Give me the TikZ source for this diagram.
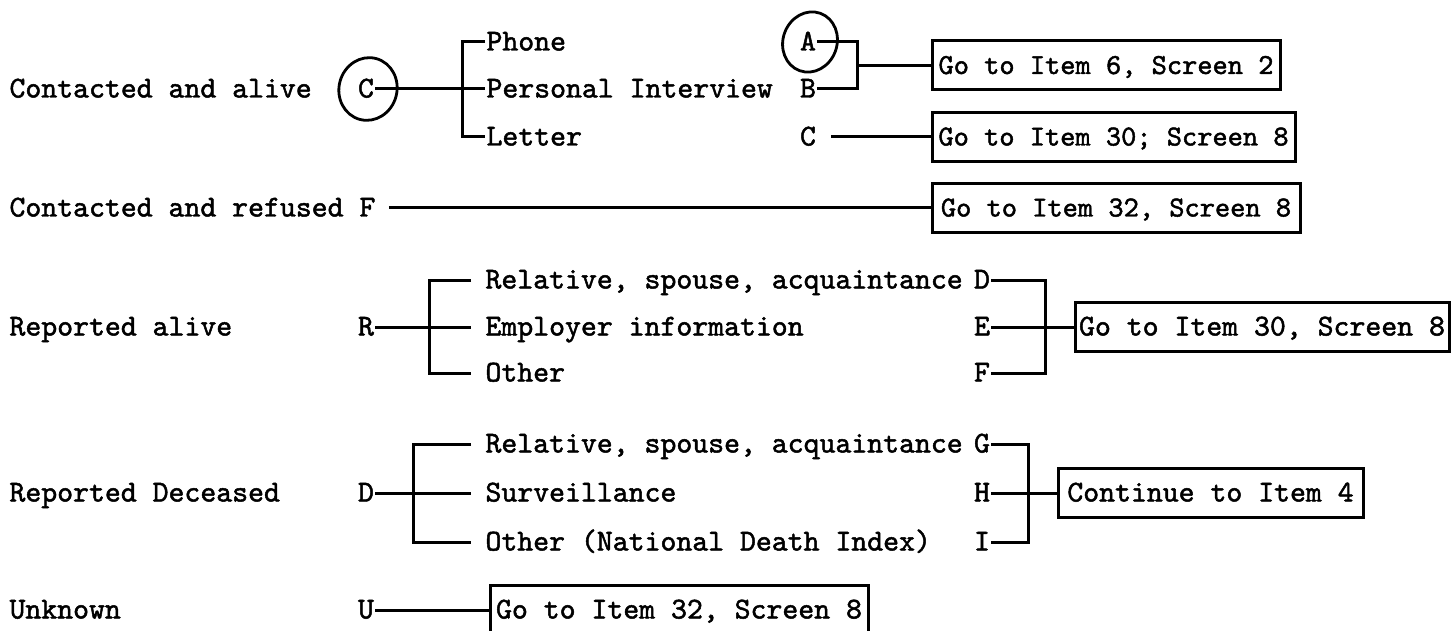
\documentclass[tikz,border=0pt]{standalone}
\usepackage{fontspec}
\newfontfamily\twfont{lmmono10-regular.otf}[FakeBold=1.6]
\begin{document}
\begin{tikzpicture}[x=1pt,y=-1pt,line width=3pt,
  tfont/.style={font=\fontsize{30.3}{34}\twfont},
  sfont/.style={font=\fontsize{29}{33}\twfont},
  txt/.style={tfont,anchor=base west,inner sep=0pt,text height=17pt,text depth=0pt},
  ltr/.style={tfont,anchor=base,inner sep=0pt,text height=17pt,text depth=0pt},
  box/.style={tfont,draw,line width=3pt,inner sep=0pt,minimum height=49pt,text height=17pt,text depth=0pt},
  ring/.style={line width=2.8pt}]
\useasboundingbox (0,0) rectangle (1451,631);
% ---------- Contacted and alive
\node[txt] (ca) at (8,97.5) {Contacted and alive};
\node[ltr] (c1) at (366,97.5) {C};
\draw[ring,rotate around={-15:(368,89)}] (368,89) ellipse [x radius=29,y radius=31.5];
\node[txt] (phone) at (485,50.5) {Phone};
\node[txt] (pers) at (485,97.5) {Personal Interview};
\node[txt] (letter) at (485,145.5) {Letter};
\coordinate (k1) at (462,89);
\draw (c1.east) -- (pers.west);
\draw (phone.west) -| (k1) |- (letter.west);
\node[ltr] (a) at (808,50.5) {A};
\node[ltr] (b) at (808,97.5) {B};
\node[ltr] (c2) at (808,145.5) {C};
\draw[ring,rotate around={-20:(810,42)}] (810,42) ellipse [x radius=27,y radius=30.5];
\node[box,sfont,minimum width=348pt] (box1) at (1106,65.5) {Go to Item 6, Screen 2};
\node[box,sfont,minimum width=363pt] (box2) at (1113.5,137) {Go to Item 30; Screen 8};
\coordinate (j1) at (857,65.5);
\draw (a.east) -| (j1) |- (b.east);
\draw (j1) -- (box1.west);
\draw ([xshift=14pt]c2.east) -- (box2.west);
% ---------- Contacted and refused
\node[txt] (cr) at (8,216.5) {Contacted and refused F};
\node[box,sfont,minimum width=368pt] (box3) at (1116,208) {Go to Item 32, Screen 8};
\draw ([xshift=12pt]cr.east) -- (box3.west);
% ---------- Reported alive
\node[txt] (ra) at (8,335.5) {Reported alive};
\node[ltr] (r) at (366,335.5) {R};
\node[txt] (rel1) at (484,288.5) {Relative, spouse, acquaintance};
\node[txt] (emp) at (484,335.5) {Employer information};
\node[txt] (oth1) at (484,381.5) {Other};
\coordinate (k3) at (429,327);
\draw ([xshift=-13pt]rel1.west) -| (k3) |- ([xshift=-13pt]oth1.west);
\draw (r.east) -- ([xshift=-13pt]emp.west);
\node[ltr] (d1) at (982,288.5) {D};
\node[ltr] (e1) at (982,335.5) {E};
\node[ltr] (f1) at (982,381.5) {F};
\node[box,minimum width=374pt] (box4) at (1262,327) {Go to Item 30, Screen 8};
\coordinate (j3) at (1045,327);
\draw (d1.east) -| (j3) |- (f1.east);
\draw (e1.east) -- (box4.west);
% ---------- Reported Deceased
\node[txt] (rd) at (8,501.5) {Reported Deceased};
\node[ltr] (d2) at (366,501.5) {D};
\node[txt] (rel2) at (484,452.5) {Relative, spouse, acquaintance};
\node[txt] (surv) at (484,501.5) {Surveillance};
\node[txt] (oth2) at (484,550.5) {Other (National Death Index)};
\coordinate (k4) at (413,493);
\draw ([xshift=-13pt]rel2.west) -| (k4) |- ([xshift=-13pt]oth2.west);
\draw (d2.east) -- ([xshift=-13pt]surv.west);
\node[ltr] (g) at (982,452.5) {G};
\node[ltr] (h) at (982,501.5) {H};
\node[ltr] (i) at (982,550.5) {I};
\node[box,minimum width=305pt] (box5) at (1210.5,493) {Continue to Item 4};
\coordinate (j4) at (1028,493);
\draw (g.east) -| (j4) |- (i.east);
\draw (h.east) -- (box5.west);
% ---------- Unknown
\node[txt] (un) at (8,618.5) {Unknown};
\node[ltr] (u) at (366,618.5) {U};
\node[box,minimum width=378pt,minimum height=50pt] (box6) at (679,610) {Go to Item 32, Screen 8};
\draw (u.east) -- (box6.west);
\end{tikzpicture}
\end{document}
